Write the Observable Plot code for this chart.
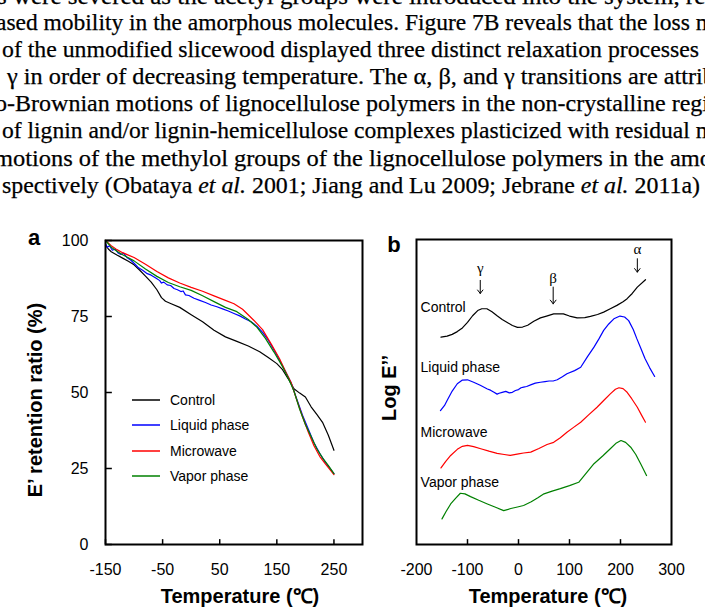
<!DOCTYPE html>
<html><head><meta charset="utf-8">
<script src="https://cdn.jsdelivr.net/npm/d3@7"></script>
<script src="https://cdn.jsdelivr.net/npm/@observablehq/plot@0.6"></script>
<style>
body{margin:0;background:#fff;}
#wrap{position:relative;width:705px;height:614px;overflow:hidden;background:#fff;}
#text{position:absolute;left:0;top:0;}
#pa{position:absolute;left:0;top:220px;}
#pb{position:absolute;left:370px;top:220px;}
#over{position:absolute;left:0;top:0;pointer-events:none;}
</style></head>
<body><div id="wrap"><div id="text"></div><div id="pa"></div><div id="pb"></div><div id="over"></div></div>
<script>
// ---- page text above the figure ----
const textLines = [
  "s were severed as the acetyl groups were introduced into the system, res",
  "ased mobility in the amorphous molecules. Figure 7B reveals that the loss m",
  "of the unmodified slicewood displayed three distinct relaxation processes",
  "\u03b3 in order of decreasing temperature. The \u03b1, \u03b2, and \u03b3 transitions are attrib",
  "o-Brownian motions of lignocellulose polymers in the non-crystalline regi",
  "of lignin and/or lignin-hemicellulose complexes plasticized with residual m",
  "motions of the methylol groups of the lignocellulose polymers in the amo",
  "spectively (Obataya |et al.| 2001; Jiang and Lu 2009; Jebrane |et al.| 2011a)"
];
const textX = [-3, -4, 2, 7, -5, 2, -6, 2];
const textY = [4, 30, 57, 84, 111, 138, 166, 193];
const textLen = [718, 718, 697, 708, 714, 712, 718, 698];

// ---- panel a: E' retention ratio (%) vs temperature ----
const xTicksA = [-150, -50, 50, 150, 250];
const yTicksA = [0, 25, 50, 75, 100];
const aControl = [[-150,98.5],[-145,97.2],[-140,96.3],[-130,95.2],[-120,94.2],[-110,93.2],[-100,92.0],[-90,90.2],[-80,88.3],[-70,86.3],[-60,83.8],[-52,81.2],[-45,80.0],[-35,79.2],[-20,78.0],[0,75.6],[20,73.3],[40,70.5],[60,68.3],[80,66.8],[100,65.3],[120,63.4],[135,61.5],[150,59.5],[160,57.5],[170,54.5],[180,51.2],[190,49.8],[200,48.5],[210,45.3],[220,42.8],[230,40.2],[240,36.0],[250,31.0]];
const aLiquid = [[-150,99.0],[-147,97.8],[-143,98.3],[-138,96.8],[-133,97.2],[-128,95.9],[-123,95.4],[-118,95.8],[-112,94.3],[-106,93.6],[-100,92.5],[-92,91.0],[-85,90.2],[-78,89.2],[-70,88.6],[-62,87.7],[-55,86.8],[-52,86.0],[-48,86.3],[-42,85.4],[-36,85.2],[-30,84.2],[-24,83.8],[-18,83.2],[-14,83.4],[-10,82.1],[-4,81.9],[5,81.0],[15,80.3],[25,79.6],[35,78.8],[45,78.2],[55,77.5],[65,76.8],[75,76.0],[85,75.2],[95,74.2],[105,73.3],[115,71.8],[125,69.8],[135,67.2],[145,64.0],[155,60.6],[165,57.0],[175,53.2],[185,47.8],[195,42.5],[205,38.0],[215,33.5],[225,30.0],[235,27.0],[250,23.3]];
const aMicrowave = [[-150,100],[-140,98.3],[-130,97.0],[-120,96.0],[-110,95.2],[-100,94.4],[-80,92.2],[-60,89.8],[-40,87.7],[-20,86.0],[0,84.6],[20,83.3],[40,81.8],[60,80.3],[75,79.2],[90,77.4],[110,73.7],[125,70.7],[140,66.0],[155,61.0],[165,57.0],[175,53.3],[185,47.5],[195,42.0],[205,37.0],[215,32.5],[225,29.0],[235,26.5],[250,23.0]];
const aVapor = [[-150,100],[-140,97.8],[-130,96.5],[-120,95.3],[-110,94.3],[-100,93.3],[-80,90.6],[-60,88.2],[-40,86.2],[-20,84.8],[0,83.6],[20,81.8],[40,79.9],[60,78.0],[80,76.6],[100,74.0],[115,71.5],[130,67.8],[145,63.3],[160,58.5],[170,54.8],[180,50.5],[190,44.5],[200,39.5],[210,35.5],[220,31.5],[230,28.5],[240,26.0],[250,23.3]];
const seriesNames = ["Control", "Liquid phase", "Microwave", "Vapor phase"];
const seriesColors = ["#000000", "#0000ff", "#ff0000", "#008000"];

// ---- panel b: Log E'' vs temperature (offset curves, arbitrary units) ----
const xTicksB = [-200, -100, 0, 100, 200, 300];
const bControl = [[-152,68.0],[-140,68.3],[-130,68.9],[-120,69.8],[-110,71.0],[-100,72.8],[-90,75.0],[-80,76.7],[-72,77.3],[-62,77.3],[-52,76.3],[-42,75.0],[-32,73.8],[-22,72.8],[-12,71.8],[-2,71.2],[8,71.3],[18,71.9],[30,73.2],[43,74.3],[55,74.9],[69,75.6],[88,75.6],[100,74.9],[115,74.3],[130,74.4],[141,74.8],[155,75.4],[167,76.2],[180,77.3],[193,78.4],[205,79.6],[213,80.6],[223,82.3],[233,84.4],[249,86.8]];
const bLiquid = [[-153,43.9],[-145,45.6],[-140,47.2],[-130,50.3],[-120,52.7],[-110,53.9],[-100,54.0],[-88,53.2],[-75,52.2],[-61,51.0],[-55,50.6],[-48,49.9],[-42,49.3],[-38,49.6],[-32,49.9],[-25,50.2],[-18,49.7],[-12,49.9],[-6,50.5],[0,50.8],[5,51.4],[10,51.6],[16,51.8],[25,52.4],[33,52.9],[43,53.2],[52,53.4],[60,53.6],[68,53.6],[76,54.0],[86,55.0],[95,56.0],[110,57.0],[122,58.1],[135,61.5],[148,64.7],[158,67.5],[167,70.2],[177,72.3],[187,74.0],[199,74.9],[208,74.6],[216,73.4],[225,70.5],[232,67.5],[239,64.7],[248,61.0],[257,58.0],[267,55.1]];
const bMicrowave = [[-152,25.1],[-143,27.2],[-133,29.2],[-120,31.2],[-110,32.2],[-100,32.5],[-88,32.1],[-74,31.4],[-58,30.6],[-42,29.9],[-28,29.5],[-16,29.2],[0,29.7],[10,30.0],[24,30.3],[40,31.5],[56,32.8],[69,33.5],[82,35.0],[95,36.8],[108,38.4],[122,40.1],[138,42.6],[154,45.0],[167,47.2],[180,49.4],[190,50.9],[197,51.4],[205,51.1],[213,49.9],[222,47.8],[233,45.0],[241,42.5],[249,40.1]];
const bVapor = [[-150,8.4],[-142,10.8],[-133,13.3],[-123,15.2],[-114,16.8],[-105,16.6],[-94,15.7],[-78,14.5],[-61,13.3],[-45,12.2],[-29,11.1],[-15,11.8],[-2,12.3],[10,12.8],[25,14.0],[38,15.3],[50,16.6],[66,17.5],[82,18.3],[100,19.3],[118,20.4],[130,22.8],[148,26.5],[165,29.0],[180,31.4],[192,33.3],[201,34.1],[210,33.5],[220,31.9],[230,29.5],[240,26.3],[251,22.6]];
const curveLabelT = [-192, -192, -192, -192];
const curveLabelV = [77.7, 58.1, 36.8, 20.4];
const greekLabels = ["\u03b3", "\u03b2", "\u03b1"];
const greekT = [-75, 68, 233];
const greekLabelV = [90.5, 87.2, 96.9];
const arrowTopV = [86.6, 84.4, 93.7];
const arrowBottomV = [82.3, 78.9, 89.3];

// ---------- build page text ----------
const ts = d3.select("#text").append("svg").attr("width", 705).attr("height", 210);
textLines.forEach((s, i) => {
  const t = ts.append("text").attr("x", textX[i]).attr("y", textY[i])
    .attr("font-family", "Liberation Serif, Times New Roman, serif").attr("font-size", 24)
    .attr("fill", "#000").attr("stroke", "#000").attr("stroke-width", 0.25)
    .attr("textLength", textLen[i]).attr("lengthAdjust", "spacingAndGlyphs");
  s.split("|").forEach((part, j) => {
    t.append("tspan").attr("font-style", j % 2 ? "italic" : "normal").text(part);
  });
});

const toRows = pts => pts.map(([T, v]) => ({T, v}));
const font = "Liberation Sans, Arial, sans-serif";
const style = {fontFamily: font, fontSize: "16px", color: "#000", background: "transparent", overflow: "visible"};

// ---------- panel a ----------
const aSeries = [aControl, aLiquid, aMicrowave, aVapor];
const plotA = Plot.plot({
  width: 370, height: 394,
  marginLeft: 105, marginRight: 8, marginTop: 20, marginBottom: 70,
  style,
  x: {domain: [-150, 300]},
  y: {domain: [0, 100]},
  marks: [
    Plot.axisX({ticks: xTicksA, tickSize: 0, tickPadding: 19, tickFormat: d => String(d), label: null, fontSize: 16}),
    Plot.axisY({ticks: yTicksA, tickSize: 0, tickPadding: 17, tickFormat: d => String(d), label: null, fontSize: 16}),
    Plot.ruleX(xTicksA, {x: d => d, y1: 0, y2: 1.6, stroke: "#000", strokeWidth: 1.5}),
    Plot.ruleY(yTicksA, {y: d => d, x1: -150, x2: -138, stroke: "#000", strokeWidth: 1.5}),
    ...aSeries.map((s, i) => Plot.line(toRows(s), {x: "T", y: "v", stroke: seriesColors[i], strokeWidth: 1.2})),
    Plot.frame({stroke: "#000", strokeWidth: 2}),
    Plot.text(["Temperature (\u2103)"], {frameAnchor: "bottom", dx: 6, dy: 58, fontSize: 20, fontWeight: "bold"})
  ]
});
document.getElementById("pa").appendChild(plotA);

// ---------- panel b ----------
const bSeries = [bControl, bLiquid, bMicrowave, bVapor];
const gIdx = greekLabels.map((_, i) => i);
const plotB = Plot.plot({
  width: 335, height: 394,
  marginLeft: 46, marginRight: 34, marginTop: 19, marginBottom: 70,
  style,
  x: {domain: [-200, 300]},
  y: {domain: [0, 100], axis: null},
  marks: [
    Plot.axisX({ticks: xTicksB, tickSize: 0, tickPadding: 19, tickFormat: d => String(d), label: null, fontSize: 16}),
    Plot.ruleX(xTicksB.slice(1, -1), {x: d => d, y1: 0, y2: 1.6, stroke: "#000", strokeWidth: 1.5}),
    ...bSeries.map((s, i) => Plot.line(toRows(s), {x: "T", y: "v", stroke: seriesColors[i], strokeWidth: 1.2})),
    Plot.text(seriesNames, {x: (d, i) => curveLabelT[i], y: (d, i) => curveLabelV[i], textAnchor: "start", fontSize: 14}),
    Plot.arrow(gIdx, {x1: i => greekT[i], x2: i => greekT[i], y1: i => arrowTopV[i], y2: i => arrowBottomV[i], stroke: "#000", strokeWidth: 1, headLength: 7, headAngle: 75}),
    Plot.text(gIdx, {x: i => greekT[i], y: i => greekLabelV[i], text: i => greekLabels[i], fontSize: 15, fontFamily: "Liberation Serif, serif"}),
    Plot.frame({stroke: "#000", strokeWidth: 2}),
    Plot.text(["Temperature (\u2103)"], {frameAnchor: "bottom", dx: 4, dy: 58, fontSize: 20, fontWeight: "bold"})
  ]
});
document.getElementById("pb").appendChild(plotB);

// ---------- overlay: panel letters, rotated axis titles, legend ----------
const ov = d3.select("#over").append("svg").attr("width", 705).attr("height", 614)
  .attr("font-family", font).attr("fill", "#000");
ov.append("text").attr("x", 34).attr("y", 245).attr("text-anchor", "middle")
  .attr("font-size", 22).attr("font-weight", "bold").text("a");
ov.append("text").attr("x", 394).attr("y", 252).attr("text-anchor", "middle")
  .attr("font-size", 22).attr("font-weight", "bold").text("b");
ov.append("text").attr("transform", "translate(35,400) rotate(-90)").attr("text-anchor", "middle")
  .attr("dominant-baseline", "central").attr("font-size", 20).attr("font-weight", "bold")
  .text("E\u2019 retention ratio (%)");
ov.append("text").attr("transform", "translate(389,388) rotate(-90)").attr("text-anchor", "middle")
  .attr("dominant-baseline", "central").attr("font-size", 20).attr("font-weight", "bold")
  .text("Log E\u2019\u2019");
const legY = [400, 425, 451, 476];
seriesNames.forEach((n, i) => {
  ov.append("line").attr("x1", 132).attr("x2", 160).attr("y1", legY[i]).attr("y2", legY[i])
    .attr("stroke", seriesColors[i]).attr("stroke-width", 1.5);
  ov.append("text").attr("x", 170).attr("y", legY[i]).attr("dominant-baseline", "central")
    .attr("font-size", 14).text(n);
});
</script>
</body></html>
